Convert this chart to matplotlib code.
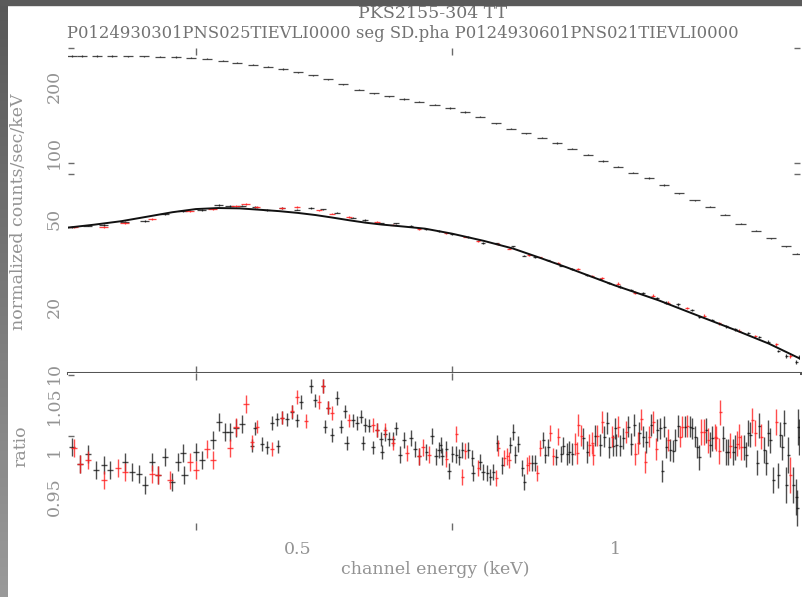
import numpy as np
import matplotlib
matplotlib.use("Agg")
import matplotlib.pyplot as plt
from matplotlib.ticker import FixedLocator, FixedFormatter, NullFormatter
from matplotlib.colors import LinearSegmentedColormap
from matplotlib.patches import Rectangle

# ---------------- data ----------------
title_text = "PKS2155-304 TT"
subtitle_text = "P0124930301PNS025TIEVLI0000 seg SD.pha P0124930601PNS021TIEVLI0000"
ylabel_top = "normalized counts/sec/keV"
ylabel_bottom = "ratio"
xlabel_text = "channel energy (keV)"

x_tick_values = [0.5, 1.0]
x_tick_labels = ["0.5", "1"]
x_minor_ticks = [0.4, 0.7]
y_top_values = [10, 20, 50, 100, 200]
y_top_labels = ["10", "20", "50", "100", "200"]
y_top_minor = [10, 50, 80, 90, 300]
y_ratio_values = [0.95, 1.0, 1.05]
y_ratio_labels = ["0.95", "1", "1.05"]
y_ratio_minor = [0.95, 1.017, 1.05, 1.084]

# typical error sizes per energy band
band_edges = [0.30, 0.45, 0.62, 0.90, 1.20, 1.45, 1.50]
ratio_err_band = [0.010, 0.0075, 0.009, 0.012, 0.014, 0.020]
ratio_xfrac_band = [0.007, 0.0045, 0.0035, 0.003, 0.0028, 0.0028]

# ratio panel, dataset 1 (black)
black_energy = [
    0.305, 0.3105, 0.3159, 0.3215, 0.3271, 0.3315, 0.3425, 0.3478, 0.3532, 0.3578,
    0.3634, 0.3682, 0.3738, 0.3796, 0.3846, 0.3888, 0.3900, 0.4001, 0.4053, 0.4152,
    0.4207, 0.4262, 0.4309, 0.4366, 0.4424, 0.4521, 0.4551, 0.4622, 0.4672, 0.4724,
    0.4776, 0.4790, 0.4828, 0.4881, 0.4935, 0.4989, 0.5033, 0.5144, 0.5190, 0.5281,
    0.5300, 0.5339, 0.5386, 0.5445, 0.5493, 0.5541, 0.5560, 0.5639, 0.5689, 0.5739,
    0.5760, 0.5790, 0.5840, 0.5892, 0.5944, 0.5996, 0.6010, 0.6049, 0.6102, 0.6156,
    0.6196, 0.6251, 0.6306, 0.6403, 0.6459, 0.6516, 0.6617, 0.6704, 0.6763, 0.6807,
    0.6830, 0.6852, 0.6913, 0.6958, 0.7004, 0.7066, 0.7112, 0.7159, 0.7254, 0.7317,
    0.7333, 0.7446, 0.7495, 0.7561, 0.7611, 0.7661, 0.7729, 0.7814, 0.7952, 0.8004,
    0.8040, 0.8093, 0.8164, 0.8199, 0.8345, 0.8400, 0.8548, 0.8586, 0.8642, 0.8795,
    0.8892, 0.8931, 0.9009, 0.9049, 0.9108, 0.9330, 0.9412, 0.9579, 0.9684, 0.9769,
    0.9833, 0.9877, 0.9963, 1.0007, 1.0030, 1.0117, 1.0184, 1.0296, 1.0364, 1.0432,
    1.0547, 1.0640, 1.0710, 1.0827, 1.0971, 1.1043, 1.1091, 1.1140, 1.1189, 1.1287,
    1.1361, 1.1411, 1.1486, 1.1663, 1.1791, 1.1843, 1.1921, 1.1973, 1.2026, 1.2211,
    1.2319, 1.2373, 1.2674, 1.2757, 1.2813, 1.2954, 1.3011, 1.3269, 1.3328, 1.3386,
    1.3445, 1.3652, 1.3712, 1.3863, 1.3923, 1.3984, 1.4046, 1.4138, 1.4293, 1.4356,
    1.4419, 1.4482, 1.4546, 1.4609, 1.4770, 1.4868, 1.4900, 1.4933, 1.4966,
]
black_ratio = [
    1.004, 0.986, 0.997, 0.979, 0.984, 0.979, 0.988, 0.977, 0.975, 0.962,
    0.988, 0.973, 0.993, 0.966, 0.988, 0.998, 0.973, 0.999, 0.990, 1.012,
    1.032, 1.021, 1.021, 1.025, 1.030, 1.006, 1.025, 1.008, 1.004, 1.031,
    1.035, 1.005, 1.037, 1.035, 1.043, 1.034, 1.054, 1.072, 1.056, 1.072,
    1.027, 1.048, 1.018, 1.059, 1.027, 1.044, 1.009, 1.034, 1.031, 1.038,
    1.009, 1.029, 1.028, 1.004, 1.023, 1.013, 0.999, 1.019, 1.013, 1.013,
    1.025, 0.996, 1.012, 1.014, 1.002, 0.994, 0.999, 1.017, 0.994, 1.001,
    1.007, 0.994, 1.002, 0.978, 0.997, 0.996, 0.993, 1.001, 1.001, 0.992,
    0.976, 0.988, 0.977, 0.976, 0.971, 0.977, 1.009, 0.984, 1.007, 1.021,
    0.996, 1.008, 0.981, 0.966, 0.987, 0.987, 1.012, 0.996, 1.004, 0.993,
    0.997, 1.006, 0.997, 0.999, 0.997, 1.014, 0.999, 1.017, 1.007, 1.016,
    1.031, 1.004, 1.006, 1.025, 1.007, 1.006, 1.014, 1.027, 1.008, 1.029,
    1.020, 1.016, 1.010, 1.029, 1.023, 1.025, 0.978, 1.027, 1.004, 1.001,
    1.000, 1.012, 1.028, 1.027, 1.027, 1.025, 1.016, 1.004, 0.993, 1.023,
    1.007, 1.014, 1.014, 0.999, 0.999, 0.999, 1.004, 1.004, 0.996, 1.020,
    1.018, 0.987, 1.028, 1.001, 0.987, 1.020, 1.012, 0.968, 0.973, 1.018,
    1.004, 1.031, 0.962, 0.996, 0.962, 0.949, 0.937, 1.027, 1.016,
]

# ratio panel, dataset 2 (red)
red_energy = [
    0.3064, 0.3105, 0.3159, 0.3271, 0.3373, 0.3425, 0.3634, 0.3682, 0.3780, 0.3948,
    0.4001, 0.4098, 0.4152, 0.4309, 0.4366, 0.4462, 0.4521, 0.4571, 0.4724, 0.4828,
    0.4935, 0.4989, 0.5088, 0.5235, 0.5281, 0.5339, 0.5386, 0.5590, 0.5892, 0.5944,
    0.6049, 0.6156, 0.6347, 0.6516, 0.6573, 0.6660, 0.6913, 0.7066, 0.7159, 0.7206,
    0.7414, 0.7712, 0.7746, 0.7848, 0.7900, 0.7935, 0.8254, 0.8290, 0.8437, 0.8492,
    0.8680, 0.8737, 0.8833, 0.9168, 0.9208, 0.9229, 0.9289, 0.9454, 0.9516, 0.9537,
    0.9621, 0.9727, 0.9942, 1.0073, 1.0251, 1.0455, 1.0524, 1.0593, 1.0686, 1.0780,
    1.0875, 1.0947, 1.1238, 1.1536, 1.1587, 1.1714, 1.2078, 1.2158, 1.2265, 1.2454,
    1.2481, 1.2563, 1.2591, 1.2869, 1.3068, 1.3125, 1.3183, 1.3504, 1.3592, 1.3772,
    1.4231, 1.4673,
]
red_ratio = [
    1.003, 0.986, 0.990, 0.968, 0.981, 0.977, 0.975, 0.973, 0.968, 0.988,
    0.979, 1.002, 0.990, 1.003, 1.027, 1.052, 1.010, 1.027, 1.002, 1.037,
    1.044, 1.060, 1.033, 1.054, 1.072, 1.048, 1.042, 1.034, 1.029, 1.023,
    1.023, 1.009, 0.998, 0.994, 1.004, 0.996, 0.991, 1.019, 0.971, 1.000,
    0.981, 0.970, 1.003, 0.992, 0.994, 0.990, 0.984, 0.987, 0.976, 1.003,
    1.020, 0.994, 1.016, 1.008, 0.998, 1.029, 1.017, 1.007, 1.009, 0.996,
    1.017, 1.032, 1.016, 1.027, 1.021, 0.997, 1.009, 1.035, 0.988, 1.016,
    1.032, 1.002, 1.012, 1.016, 1.027, 1.028, 1.021, 1.021, 1.012, 1.016,
    1.014, 1.000, 1.043, 1.006, 1.008, 1.016, 1.004, 1.034, 1.020, 1.016,
    1.032, 0.973,
]

# spectrum panel: lower spectra (black and red) and model
spec_black_energy = [
    0.305, 0.3159, 0.3271, 0.3425, 0.3578, 0.3738, 0.3888, 0.4053, 0.4207, 0.4309,
    0.4424, 0.4551, 0.4672, 0.4828, 0.4989, 0.5144, 0.5281, 0.5445, 0.5639, 0.5790,
    0.5996, 0.6196, 0.6403, 0.6617, 0.6807, 0.7004, 0.7254, 0.7495, 0.7729, 0.8004,
    0.8199, 0.8400, 0.8642, 0.8892, 0.9108, 0.9412, 0.9684, 0.9877, 1.0117, 1.0364,
    1.0640, 1.0971, 1.1189, 1.1486, 1.1843, 1.2026, 1.2373, 1.2757, 1.3011, 1.3386,
    1.3712, 1.3984, 1.4293, 1.4546, 1.4868, 1.4966,
]
spec_black_flux = [
    46.2, 46.8, 47.0, 48.7, 49.2, 52.6, 54.5, 55.2, 58.0, 57.3,
    57.7, 56.8, 55.1, 56.3, 55.3, 56.3, 55.4, 53.5, 50.9, 49.7,
    47.9, 47.9, 46.6, 45.3, 44.2, 42.9, 41.5, 39.0, 38.8, 37.6,
    34.2, 33.6, 32.5, 30.8, 29.6, 27.9, 26.7, 25.7, 24.7, 23.8,
    23.0, 22.0, 20.9, 20.5, 19.4, 18.0, 17.4, 16.3, 15.8, 15.2,
    14.6, 13.9, 12.6, 12.0, 11.2, 11.8,
]
spec_red_energy = [
    0.3064, 0.3271, 0.3425, 0.3634, 0.3948, 0.4152, 0.4366, 0.4462, 0.4571, 0.4828,
    0.4989, 0.5235, 0.5386, 0.5590, 0.5944, 0.6156, 0.6516, 0.6913, 0.7206, 0.7414,
    0.7746, 0.7935, 0.8290, 0.8492, 0.8833, 0.9229, 0.9516, 0.9727, 1.0073, 1.0455,
    1.0875, 1.1238, 1.1714, 1.2158, 1.2563, 1.3125, 1.3592, 1.4231, 1.4673,
]
spec_red_flux = [
    46.2, 46.3, 48.2, 50.2, 54.3, 55.5, 57.6, 58.8, 56.8, 56.3,
    56.7, 54.8, 53.0, 51.2, 48.7, 47.2, 45.3, 43.1, 41.7, 39.7,
    38.5, 36.8, 34.3, 33.5, 31.7, 29.6, 27.5, 27.1, 25.5, 23.2,
    22.5, 20.9, 19.8, 18.2, 16.8, 15.6, 14.7, 13.5, 11.9,
]
model_energy = [
    0.30, 0.32, 0.34, 0.36, 0.38, 0.40, 0.42, 0.44, 0.46, 0.48,
    0.50, 0.52, 0.54, 0.56, 0.58, 0.60, 0.63, 0.66, 0.70, 0.75,
    0.80, 0.85, 0.90, 0.95, 1.00, 1.05, 1.10, 1.20, 1.30, 1.40, 1.50,
]
model_flux = [
    45.6, 47.2, 49.0, 51.4, 53.8, 55.6, 56.2, 56.0, 55.2, 54.4,
    53.4, 52.2, 50.8, 49.4, 48.2, 47.3, 46.3, 45.3, 43.0, 39.9,
    36.8, 33.3, 30.2, 27.4, 25.0, 23.1, 21.4, 18.2, 15.7, 13.6, 11.6,
]

# spectrum panel: upper spectrum
upper_energy = [
    0.305, 0.312, 0.322, 0.333, 0.345, 0.357, 0.370, 0.383, 0.396, 0.410,
    0.424, 0.438, 0.453, 0.468, 0.484, 0.500, 0.517, 0.534, 0.552, 0.571,
    0.590, 0.610, 0.631, 0.652, 0.674, 0.697, 0.721, 0.745, 0.771, 0.797,
    0.824, 0.852, 0.881, 0.911, 0.942, 0.974, 1.007, 1.041, 1.077, 1.113,
    1.151, 1.190, 1.231, 1.272, 1.316, 1.360, 1.407, 1.454, 1.490,
]
upper_flux = [
    276, 276, 276, 276, 275.5, 275, 274, 273, 271, 268,
    263, 257.5, 252, 247, 241, 233, 225, 216, 205, 194,
    187, 181, 176, 171, 166, 160, 153.5, 146, 136.5, 129,
    123, 117.5, 111, 104.5, 98, 92, 86.5, 81.5, 77, 71.5,
    65.5, 61, 57, 52.5, 47.8, 44.3, 41, 37.6, 34.8,
]

# ---------------- helpers ----------------
def band_value(energies, band_vals):
    idx = np.searchsorted(band_edges, energies, side="right") - 1
    idx = np.clip(idx, 0, len(band_vals) - 1)
    return np.asarray(band_vals)[idx]

plt.rcParams["font.family"] = ["DejaVu Serif"]
LABEL_C = "#939393"
TITLE_C = "#727272"
TICK_C = "#6a6a6a"

fig = plt.figure(figsize=(8.03, 5.97), dpi=100)
fig.patch.set_facecolor("white")

# gray frame strips (left gradient + top)
strip = fig.add_axes([0, 0, 8 / 803, 1])
cmap = LinearSegmentedColormap.from_list("g", ["#585858", "#9a9a9a"])
strip.imshow(np.linspace(0, 1, 200).reshape(-1, 1), aspect="auto", cmap=cmap)
strip.axis("off")
fig.add_artist(Rectangle((0, 1 - 5 / 597), 1, 5 / 597, transform=fig.transFigure,
                         color="#5a5a5a", zorder=5))

L, W = 68 / 803, 732 / 803
ax1 = fig.add_axes([L, 1 - 373 / 597, W, 325 / 597])
ax2 = fig.add_axes([L, 1 - 530 / 597, W, 157 / 597])

for ax in (ax1, ax2):
    ax.set_xscale("log")
    ax.set_xlim(0.3024, 1.4987)
    for s in ax.spines.values():
        s.set_visible(False)
    ax.xaxis.set_major_locator(FixedLocator(x_tick_values))
    ax.xaxis.set_major_formatter(FixedFormatter(x_tick_labels))
    ax.xaxis.set_minor_locator(FixedLocator(x_minor_ticks))
    ax.xaxis.set_minor_formatter(NullFormatter())
    ax.tick_params(axis="x", which="major", length=0, labelsize=12.5,
                   labelcolor=LABEL_C, pad=8)
    ax.tick_params(axis="x", which="minor", length=5, width=1, direction="in",
                   top=True, bottom=True, color=TICK_C)
    ax.tick_params(axis="y", which="major", length=0, labelsize=12.5,
                   labelcolor=LABEL_C, labelrotation=90, pad=4)
    ax.tick_params(axis="y", which="minor", length=4, width=1, direction="in",
                   color=TICK_C)

ax1.spines["bottom"].set_visible(True)
ax1.spines["bottom"].set_color("#555555")
ax1.spines["bottom"].set_linewidth(2.2)
ax1.tick_params(axis="x", which="both", labelbottom=False)

# top panel
ax1.set_yscale("log")
ax1.set_ylim(10, 300)
ax1.yaxis.set_major_locator(FixedLocator(y_top_values))
ax1.yaxis.set_major_formatter(FixedFormatter(y_top_labels))
ax1.yaxis.set_minor_locator(FixedLocator(y_top_minor))
ax1.yaxis.set_minor_formatter(NullFormatter())
ax1.tick_params(axis="y", which="minor", left=True, right=True)
for lab in ax1.get_yticklabels():
    lab.set_va("center")

ue = np.array(upper_energy)
uf = np.array(upper_flux)
ax1.errorbar(ue, uf, xerr=ue * 0.011, yerr=uf * 0.006, fmt="none",
             ecolor="#2a2a2a", elinewidth=0.9, alpha=0.85)

sbe = np.array(spec_black_energy)
sbf = np.array(spec_black_flux)
ax1.errorbar(sbe, sbf, xerr=sbe * band_value(sbe, ratio_xfrac_band) * 1.4,
             yerr=sbf * band_value(sbe, ratio_err_band), fmt="none",
             ecolor="#111111", elinewidth=0.9, alpha=0.8)
sre = np.array(spec_red_energy)
srf = np.array(spec_red_flux)
ax1.errorbar(sre, srf, xerr=sre * band_value(sre, ratio_xfrac_band) * 1.4,
             yerr=srf * band_value(sre, ratio_err_band), fmt="none",
             ecolor="#ff2222", elinewidth=0.9, alpha=0.85)
ax1.plot(model_energy, model_flux, color="#111111", lw=1.4)

# ratio panel
ax2.set_ylim(0.9125, 1.0864)
ax2.yaxis.set_major_locator(FixedLocator(y_ratio_values))
ax2.yaxis.set_major_formatter(FixedFormatter(y_ratio_labels))
ax2.yaxis.set_minor_locator(FixedLocator(y_ratio_minor))
ax2.yaxis.set_minor_formatter(NullFormatter())
ax2.tick_params(axis="y", which="minor", left=True, right=False)
for lab in ax2.get_yticklabels():
    lab.set_va("center")

be = np.array(black_energy)
br = np.array(black_ratio)
ax2.errorbar(be, br, xerr=be * band_value(be, ratio_xfrac_band),
             yerr=band_value(be, ratio_err_band), fmt="none",
             ecolor="#111111", elinewidth=1.0, alpha=0.75)
re_ = np.array(red_energy)
rr = np.array(red_ratio)
ax2.errorbar(re_, rr, xerr=re_ * band_value(re_, ratio_xfrac_band),
             yerr=band_value(re_, ratio_err_band), fmt="none",
             ecolor="#ff2020", elinewidth=1.0, alpha=0.8)

# texts
fig.text(433 / 803, 1 - 13 / 597, title_text, ha="center", va="center",
         fontsize=12.5, color=TITLE_C)
fig.text(403 / 803, 1 - 33 / 597, subtitle_text, ha="center", va="center",
         fontsize=11.8, color=TITLE_C)
fig.text(19 / 803, 1 - 212 / 597, ylabel_top, rotation=90, ha="center",
         va="center", fontsize=12.5, color=LABEL_C)
fig.text(21 / 803, 1 - 446 / 597, ylabel_bottom, rotation=90, ha="center",
         va="center", fontsize=12.5, color=LABEL_C)
fig.text(435 / 803, 1 - 569 / 597, xlabel_text, ha="center", va="center",
         fontsize=12.5, color=LABEL_C)

fig.savefig("out.png", dpi=100, facecolor="white")
